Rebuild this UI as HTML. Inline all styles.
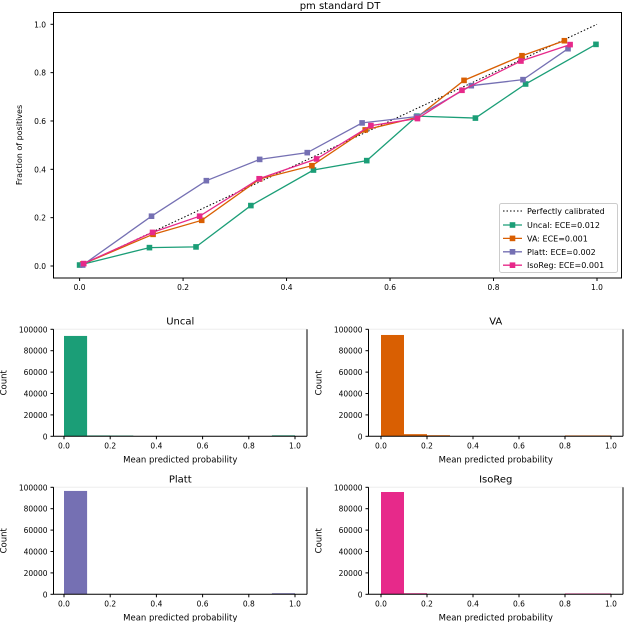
<!DOCTYPE html>
<html><head><meta charset="utf-8"><style>
body{margin:0;background:#fff;}
svg{display:block;font-family:"DejaVu Sans","Liberation Sans",sans-serif;}
</style></head><body>
<svg id="c" width="624" height="622" viewBox="0 0 624 622"></svg>
<script>
const ticks01 = [0, 0.2, 0.4, 0.6, 0.8, 1.0];
const seriesNames = ["Uncal: ECE=0.012", "VA: ECE=0.001", "Platt: ECE=0.002", "IsoReg: ECE=0.001"];
const uncalX = [0, 0.135, 0.225, 0.331, 0.452, 0.555, 0.652, 0.765, 0.862, 0.998];
const uncalY = [0.004, 0.076, 0.079, 0.25, 0.397, 0.436, 0.62, 0.612, 0.753, 0.917];
const vaX = [0.006, 0.142, 0.236, 0.348, 0.449, 0.552, 0.652, 0.743, 0.855, 0.937];
const vaY = [0.008, 0.131, 0.189, 0.36, 0.415, 0.563, 0.615, 0.768, 0.87, 0.932];
const plattX = [0.006, 0.139, 0.245, 0.348, 0.44, 0.546, 0.651, 0.757, 0.857, 0.944];
const plattY = [0.004, 0.206, 0.353, 0.441, 0.469, 0.592, 0.618, 0.746, 0.771, 0.899];
const isoX = [0.008, 0.141, 0.232, 0.347, 0.458, 0.563, 0.653, 0.739, 0.853, 0.948];
const isoY = [0.01, 0.139, 0.206, 0.361, 0.443, 0.581, 0.61, 0.727, 0.848, 0.916];
const histTitles = ["Uncal", "VA", "Platt", "IsoReg"];
const countTicks = [0, 20000, 40000, 60000, 80000, 100000];
const uncalCounts = [93800, 800, 700, 0, 0, 0, 0, 0, 0, 900];
const vaCounts = [94700, 2000, 1000, 0, 0, 0, 0, 0, 800, 800];
const plattCounts = [96600, 0, 0, 0, 0, 0, 0, 0, 0, 1000];
const isoCounts = [95600, 1000, 0, 0, 0, 0, 0, 0, 800, 800];

const colors = ["#1b9e77", "#d95f02", "#7570b3", "#e7298a"];
const svg = document.getElementById('c');
const NS = "http://www.w3.org/2000/svg";
function mk(tag, attrs, parent, txt){const e=document.createElementNS(NS,tag);for(const k in attrs)e.setAttribute(k,attrs[k]);if(txt!==undefined)e.textContent=txt;(parent||svg).appendChild(e);return e;}

// main chart
const mx = v => 79.6 + v*517.4;
const my = v => 266 - v*241.7;
let t = mk('text',{x:340,y:9,'text-anchor':'middle','font-size':10});
t.textContent='pm standard DT';


let r = mk('rect',{x:53.5,y:12.5,width:568,height:265.5,fill:'none',stroke:'#000','stroke-width':1});


ticks01.forEach(v=>{
  mk('line',{x1:mx(v),x2:mx(v),y1:278,y2:281,stroke:'#000'});
  let a=mk('text',{x:mx(v),y:290,'text-anchor':'middle','font-size':7.5},undefined,v.toFixed(1));
  
  
  mk('line',{x1:50.5,x2:53.5,y1:my(v),y2:my(v),stroke:'#000'});
  let b=mk('text',{x:46,y:my(v)+3,'text-anchor':'end','font-size':7.5},undefined,v.toFixed(1));
  
  
});
t = mk('text',{x:22,y:145,'text-anchor':'middle','font-size':8,transform:'rotate(-90 22 145)'},undefined,'Fraction of positives');


let diag = mk('line',{x1:mx(0),y1:my(0),x2:mx(1),y2:my(1),stroke:'#000','stroke-dasharray':'1.5,2','stroke-width':1});


const sx=[uncalX,vaX,plattX,isoX], sy=[uncalY,vaY,plattY,isoY];
const sn=['uncal','va','platt','isoreg'];
for(let i=0;i<4;i++){
  const g=mk('g',{});
  
  
  mk('polyline',{points:sx[i].map((x,j)=>mx(x)+','+my(sy[i][j])).join(' '),fill:'none',stroke:colors[i],'stroke-width':1.3},g);
  sx[i].forEach((x,j)=>{
    const m=mk('rect',{x:mx(x)-2.8,y:my(sy[i][j])-2.8,width:5.6,height:5.6,fill:colors[i]},g);
    
    
  });
}
// legend
const lg=mk('g',{});


mk('rect',{x:499.5,y:203.5,width:118,height:69,fill:'#fff','fill-opacity':0.85,stroke:'#ccc',rx:2},lg);
mk('line',{x1:503,x2:522,y1:211,y2:211,stroke:'#000','stroke-dasharray':'1.5,2'},lg);
let le=mk('text',{x:527,y:214,'font-size':8},lg,'Perfectly calibrated');


seriesNames.forEach((n,i)=>{
  const y=225+i*13.4;
  mk('line',{x1:503,x2:522,y1:y,y2:y,stroke:colors[i],'stroke-width':1.3},lg);
  mk('rect',{x:509.7,y:y-2.8,width:5.6,height:5.6,fill:colors[i]},lg);
  const e=mk('text',{x:527,y:y+3,'font-size':8},lg,n);
  
  
});

// histograms
const hc=[uncalCounts,vaCounts,plattCounts,isoCounts];
const panels=[{l:53.5,r:307,t:329.3,b:436.3,z:64,o:295},{l:368.5,r:623,t:329.3,b:436.3,z:381,o:611},
              {l:53.5,r:307,t:487.3,b:594.3,z:64,o:295},{l:368.5,r:623,t:487.3,b:594.3,z:381,o:611}];
panels.forEach((p,i)=>{
  const g=mk('g',{});
  
  
  const hx=v=>p.z+v*(p.o-p.z);
  const hy=v=>p.b-v/100000*(p.b-p.t);
  const tt=mk('text',{x:(p.l+p.r)/2,y:p.t-5,'text-anchor':'middle','font-size':10},g,histTitles[i]);
  
  
  mk('line',{x1:p.l,x2:p.r,y1:p.t,y2:p.t,stroke:'#eee'},g);
  hc[i].forEach((c,j)=>{
    if(c<=0)return;
    const b=mk('rect',{x:hx(j/10),y:hy(c),width:hx((j+1)/10)-hx(j/10),height:p.b-hy(c),fill:colors[i]},g);
    
    
  });
  mk('line',{x1:p.l,x2:p.l,y1:p.t,y2:p.b,stroke:'#000'},g);
  mk('line',{x1:p.r,x2:p.r,y1:p.t,y2:p.b,stroke:'#000'},g);
  mk('line',{x1:p.l,x2:p.r,y1:p.b,y2:p.b,stroke:'#000'},g);
  ticks01.forEach(v=>{
    mk('line',{x1:hx(v),x2:hx(v),y1:p.b,y2:p.b+3,stroke:'#000'},g);
    const a=mk('text',{x:hx(v),y:p.b+12,'text-anchor':'middle','font-size':7.5},g,v.toFixed(1));
    
    
  });
  countTicks.forEach(v=>{
    mk('line',{x1:p.l-3,x2:p.l,y1:hy(v),y2:hy(v),stroke:'#000'},g);
    const a=mk('text',{x:p.l-6,y:hy(v)+3,'text-anchor':'end','font-size':7.5},g,String(v));
    
    
  });
  const xl=mk('text',{x:(p.l+p.r)/2,y:p.b+26,'text-anchor':'middle','font-size':8.5},g,'Mean predicted probability');
  
  
  const yx=p.l-47, yc=(p.t+p.b)/2;
  const yl=mk('text',{x:yx,y:yc,'text-anchor':'middle','font-size':8.5,transform:`rotate(-90 ${yx} ${yc})`},g,'Count');
  
  
});
</script>
</body></html>
